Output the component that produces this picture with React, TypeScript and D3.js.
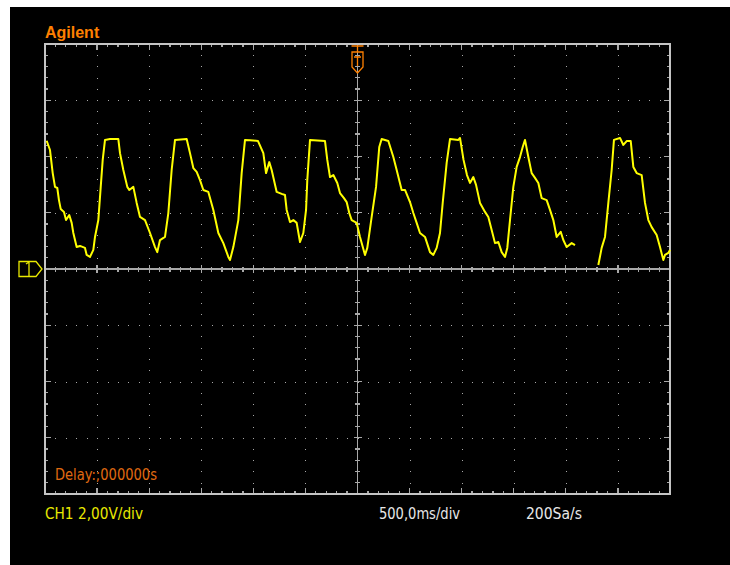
import React from "react";
import * as d3 from "d3";

// Sample times (ms, 0 = trigger at screen centre) and CH1 volts.
// null marks the place where the trace drops out.
const timeMs = [
  -2984, -2952, -2926, -2904, -2882, -2866, -2849, -2818, -2798, -2767, -2744, -2728, -2696, -2664,
  -2616, -2600, -2568, -2536, -2520, -2488, -2465, -2446, -2424, -2376, -2296, -2280, -2248, -2210,
  -2191, -2152, -2120, -2088, -2040, -1992, -1944, -1922, -1896, -1848, -1816, -1784, -1752, -1640,
  -1608, -1576, -1544, -1512, -1480, -1432, -1384, -1336, -1288, -1240, -1224, -1192, -1144, -1112,
  -1080, -1032, -955, -904, -878, -847, -824, -776, -728, -696, -680, -648, -616, -584, -552, -520,
  -494, -482, -456, -312, -290, -264, -232, -194, -168, -130, -104, -79, -56, -8, 24, 72, 94, 136,
  178, 209, 232, 296, 344, 376, 424, 456, 504, 536, 568, 600, 648, 696, 728, 760, 792, 818, 856, 888,
  968, 984, 1018, 1051, 1080, 1112, 1138, 1176, 1224, 1256, 1288, 1320, 1352, 1384, 1416, 1438, 1464,
  1496, 1528, 1560, 1586, 1608, 1640, 1672, 1704, 1736, 1768, 1816, 1848, 1880, 1912, 1951, 1976,
  2008, 2056, 2088, 2200, 2312, 2344, 2376, 2408, 2440, 2462, 2520, 2552, 2584, 2623, 2648, 2680,
  2728, 2760, 2792, 2824, 2872, 2904, 2936, 2952, 2984, 3000,
];
const volts = [
  4.56, 4.23, 3.41, 2.92, 2.88, 2.45, 2.13, 2.03, 1.74, 1.92, 1.64, 1.28, 0.78, 0.82,
  0.75, 0.5, 0.43, 0.68, 1.14, 1.74, 2.92, 3.88, 4.59, 4.62, 4.62, 4.12, 3.52, 2.92,
  2.81, 2.92, 2.35, 1.85, 1.74, 1.28, 0.78, 0.6, 1.03, 1.14, 1.99, 3.52, 4.59, 4.62,
  4.12, 3.59, 3.45, 3.16, 2.81, 2.74, 2.1, 1.28, 0.92, 0.43, 0.32, 0.78, 1.74, 3.41,
  4.59, 4.58, 4.55, 4.12, 3.41, 3.8, 3.52, 2.74, 2.67, 2.63, 2.1, 1.67, 1.74, 1.64, 0.96, 1.28,
  2.1, 3.16, 4.59, 4.55, 3.88, 3.27, 3.34, 3.06, 2.7, 2.52, 2.38, 1.99, 1.74, 1.64, 1.14, 0.5, 0.75, 1.85,
  2.92, 4.34, 4.62, 4.55, 3.98, 3.52, 2.81, 2.81, 2.38, 1.99, 1.64, 1.28, 1.14, 0.6, 0.5, 0.75, 1.28, 2.35, 3.77, 4.62,
  4.59, 4.66, 3.88, 3.34, 3.06, 3.27, 2.99, 2.35, 2.03, 1.85, 1.39, 0.92, 0.96, 0.6, 0.43, 0.75, 1.74,
  2.92, 3.63, 3.98, 4.34, 4.59, 3.98, 3.41, 3.24, 3.06, 2.52, 2.45, 2.1, 1.74, 1.14, 1.32, 1.03,
  0.78, 0.92, 0.85, null, 0.14, 0.75, 1.14, 2.35, 3.52, 4.59, 4.66, 4.41, 4.55, 4.55, 3.63, 3.41,
  3.34, 2.35, 1.74, 1.49, 1.21, 0.78, 0.32, 0.5, 0.57, 0.68,
];

// Screen: 12 time divisions of 500 ms, 8 voltage divisions of 2 V
const timeDomain = [-3000, 3000];
const voltDomain = [-8, 8];
const majorTimes = d3.range(-3000, 3001, 500);
const minorTimes = d3.range(-3000, 3001, 100);
const majorVolts = d3.range(-8, 8.01, 2);
const minorVolts = d3.range(-8, 8.01, 0.4);

const brand = "Agilent";
const delayLabel = "Delay:;000000s";
const channelLabel = "CH1 2,00V/div";
const timebaseLabel = "500,0ms/div";
const rateLabel = "200Sa/s";

const frameColor = "#c4c4c4";
const dotColor = "#a8a8a8";
const traceColor = "#ffff00";
const orange = "#ff8000";
const fontFamily = "'Liberation Sans Narrow', 'DejaVu Sans Condensed', 'Liberation Sans', Arial, sans-serif";

export default function App() {
  const x = d3.scaleLinear().domain(timeDomain).range([45, 670]);
  const y = d3.scaleLinear().domain(voltDomain).range([494, 44]);

  const points = timeMs.map((t, i) => ({ t, v: volts[i] }));
  const line = d3
    .line<{ t: number; v: number | null }>()
    .defined((d) => d.v !== null)
    .x((d) => x(d.t))
    .y((d) => y(d.v as number));

  const cx = x(0);
  const cy = y(0);
  const isMajor = (v: number, step: number) => Math.abs(v / step - Math.round(v / step)) < 1e-6;

  // dotted grid: dots along every major line at each minor step
  const dots: [number, number][] = [];
  majorTimes.slice(1, -1).forEach((t) => {
    if (t === 0) return;
    minorVolts.slice(1, -1).forEach((v) => dots.push([x(t), y(v)]));
  });
  majorVolts.slice(1, -1).forEach((v) => {
    if (v === 0) return;
    minorTimes.slice(1, -1).forEach((t) => dots.push([x(t), y(v)]));
  });

  const tickLines: [number, number, number, number][] = [];
  minorTimes.slice(1, -1).forEach((t) => {
    const len = isMajor(t, 500) ? 6 : 3;
    tickLines.push([x(t), 44, x(t), 44 + len]);
    tickLines.push([x(t), 494, x(t), 494 - len]);
    if (t !== 0) tickLines.push([x(t), cy - (isMajor(t, 500) ? 4 : 2.5), x(t), cy + (isMajor(t, 500) ? 4 : 2.5)]);
  });
  minorVolts.slice(1, -1).forEach((v) => {
    const len = isMajor(v, 2) ? 6 : 3;
    tickLines.push([45, y(v), 45 + len, y(v)]);
    tickLines.push([670, y(v), 670 - len, y(v)]);
    if (v !== 0) tickLines.push([cx - (isMajor(v, 2) ? 4 : 2.5), y(v), cx + (isMajor(v, 2) ? 4 : 2.5), y(v)]);
  });

  return (
    <svg
      width={730}
      height={565}
      style={{ position: "absolute", left: 0, top: 0, background: "#fff" }}
    >
      <rect x={10} y={7} width={720} height={558} fill="#000" />

      <g shapeRendering="crispEdges">
        {dots.map(([dx, dy], i) => (
          <rect key={i} x={Math.round(dx) - 0.5} y={Math.round(dy) - 0.5} width={1.5} height={1.5} fill={dotColor} />
        ))}
        <line x1={45} x2={670} y1={cy} y2={cy} stroke={dotColor} strokeWidth={1.5} />
        <line x1={cx} x2={cx} y1={44} y2={494} stroke={dotColor} strokeWidth={1.5} />
        {tickLines.map(([x1, y1, x2, y2], i) => (
          <line key={i} x1={x1} y1={y1} x2={x2} y2={y2} stroke={dotColor} strokeWidth={1.3} />
        ))}
        <rect x={45} y={44} width={625} height={450} fill="none" stroke={frameColor} strokeWidth={2} />
      </g>

      <path
        d={line(points) || ""}
        fill="none"
        stroke={traceColor}
        strokeWidth={2}
        strokeLinejoin="round"
      />

      {/* trigger position marker */}
      <g stroke={orange} fill="none" strokeWidth={1.3}>
        <path d={`M${cx - 6},46 H${cx + 6} M${cx},46 V52 M${cx - 5.5},52 H${cx + 5.5} V67 L${cx},73 L${cx - 5.5},67 Z`} />
        <path d={`M${cx - 3.5},57 H${cx + 3.5} M${cx},57 V66`} />
      </g>

      {/* channel 1 ground marker */}
      <g stroke="#e8e800" fill="none" strokeWidth={1.3}>
        <path d={`M19,${cy - 7.5} H36 L42,${cy} L36,${cy + 7.5} H19 Z`} />
        <path d={`M29,${cy - 7.5} V${cy + 7.5} M26,${cy - 5} L29,${cy - 7}`} />
      </g>

      <text x={45} y={38} fill={orange} fontFamily="'Liberation Sans', Arial, sans-serif" fontWeight="bold" fontSize={16}>
        {brand}
      </text>
      <text x={55} y={480} fill="#e06a10" fontFamily={fontFamily} fontSize={15} textLength={102} lengthAdjust="spacingAndGlyphs">
        {delayLabel}
      </text>
      <text x={45} y={519} fill="#e8e800" fontFamily={fontFamily} fontSize={16} textLength={98} lengthAdjust="spacingAndGlyphs">
        {channelLabel}
      </text>
      <text x={379} y={519} fill="#e8e8e8" fontFamily={fontFamily} fontSize={16} textLength={81} lengthAdjust="spacingAndGlyphs">
        {timebaseLabel}
      </text>
      <text x={526} y={519} fill="#e8e8e8" fontFamily={fontFamily} fontSize={16} textLength={56} lengthAdjust="spacingAndGlyphs">
        {rateLabel}
      </text>
    </svg>
  );
}
